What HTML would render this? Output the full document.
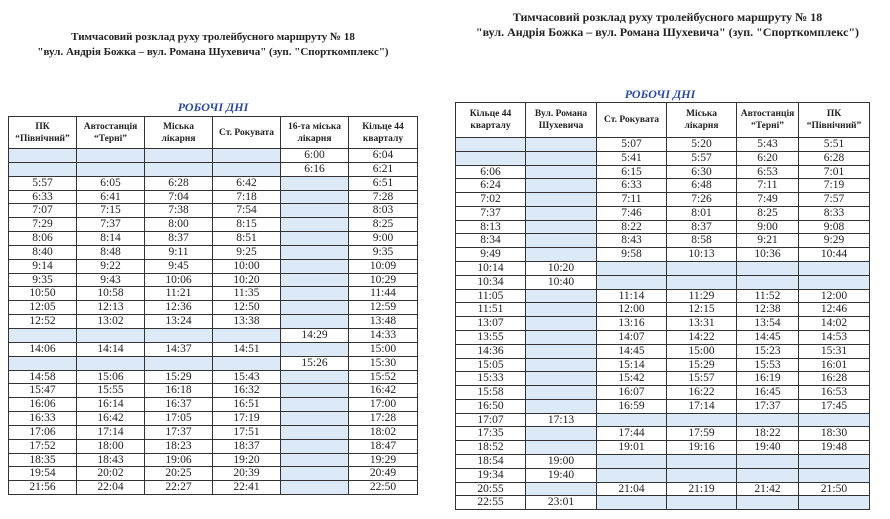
<!DOCTYPE html>
<html><head><meta charset="utf-8"><style>
body{margin:0;width:890px;height:519px;background:#fff;position:relative;overflow:hidden;font-family:"Liberation Serif",serif;color:#222}
.t{position:absolute;text-align:center;font-weight:bold;font-size:11px;line-height:15px;white-space:nowrap}
.sub{position:absolute;font-style:italic;font-weight:bold;color:#2a4a9a;font-size:12px;text-align:center}
table{position:absolute;border-collapse:collapse;table-layout:fixed}
td{border:1px solid #333;padding:0;text-align:center;font-size:11.5px;overflow:hidden;white-space:nowrap}
th{border:1.5px solid #333;font-size:9.5px;font-weight:bold;line-height:12px;padding:0}
td.b{background:#dce9f7}
</style></head><body>
<div class="t" style="left:8px;width:410px;top:30px">Тимчасовий розклад руху тролейбусного маршруту № 18<br>"вул. Андрія Божка – вул. Романа Шухевича" (зуп. "Спорткомплекс")</div>
<div class="sub" style="left:8px;width:410px;top:100px">РОБОЧІ ДНІ</div>
<div class="t" style="left:455px;width:425px;top:10px;font-size:12px">Тимчасовий розклад руху тролейбусного маршруту № 18<br>"вул. Андрія Божка – вул. Романа Шухевича" (зуп. "Спорткомплекс")</div>
<div class="sub" style="left:470px;width:380px;top:87px">РОБОЧІ ДНІ</div>
<table id="lt" style="left:8px;top:116px;width:409px"></table>
<table id="rt" style="left:455px;top:102px;width:414px"></table>
<script>
const leftHead=['ПК<br>“Північний”','Автостанція<br>“Тернi”','Міська<br>лікарня','Ст. Рокувата','16-та міська<br>лікарня','Кільце 44<br>кварталу'];
const leftRows=[
['','','','','6:00','6:04'],['','','','','6:16','6:21'],
['5:57','6:05','6:28','6:42','','6:51'],['6:33','6:41','7:04','7:18','','7:28'],
['7:07','7:15','7:38','7:54','','8:03'],['7:29','7:37','8:00','8:15','','8:25'],
['8:06','8:14','8:37','8:51','','9:00'],['8:40','8:48','9:11','9:25','','9:35'],
['9:14','9:22','9:45','10:00','','10:09'],['9:35','9:43','10:06','10:20','','10:29'],
['10:50','10:58','11:21','11:35','','11:44'],['12:05','12:13','12:36','12:50','','12:59'],
['12:52','13:02','13:24','13:38','','13:48'],['','','','','14:29','14:33'],
['14:06','14:14','14:37','14:51','','15:00'],['','','','','15:26','15:30'],
['14:58','15:06','15:29','15:43','','15:52'],['15:47','15:55','16:18','16:32','','16:42'],
['16:06','16:14','16:37','16:51','','17:00'],['16:33','16:42','17:05','17:19','','17:28'],
['17:06','17:14','17:37','17:51','','18:02'],['17:52','18:00','18:23','18:37','','18:47'],
['18:35','18:43','19:06','19:20','','19:29'],['19:54','20:02','20:25','20:39','','20:49'],
['21:56','22:04','22:27','22:41','','22:50']];
const rightHead=['Кільце 44<br>кварталу','Вул. Романа<br>Шухевича','Ст. Рокувата','Міська<br>лікарня','Автостанція<br>“Тернi”','ПК<br>“Північний”'];
const rightRows=[
['','','5:07','5:20','5:43','5:51'],['','','5:41','5:57','6:20','6:28'],
['6:06','','6:15','6:30','6:53','7:01'],['6:24','','6:33','6:48','7:11','7:19'],
['7:02','','7:11','7:26','7:49','7:57'],['7:37','','7:46','8:01','8:25','8:33'],
['8:13','','8:22','8:37','9:00','9:08'],['8:34','','8:43','8:58','9:21','9:29'],
['9:49','','9:58','10:13','10:36','10:44'],['10:14','10:20','','','',''],
['10:34','10:40','','','',''],['11:05','','11:14','11:29','11:52','12:00'],
['11:51','','12:00','12:15','12:38','12:46'],['13:07','','13:16','13:31','13:54','14:02'],
['13:55','','14:07','14:22','14:45','14:53'],['14:36','','14:45','15:00','15:23','15:31'],
['15:05','','15:14','15:29','15:53','16:01'],['15:33','','15:42','15:57','16:19','16:28'],
['15:58','','16:07','16:22','16:45','16:53'],['16:50','','16:59','17:14','17:37','17:45'],
['17:07','17:13','','','',''],['17:35','','17:44','17:59','18:22','18:30'],
['18:52','','19:01','19:16','19:40','19:48'],['18:54','19:00','','','',''],
['19:34','19:40','','','',''],['20:55','','21:04','21:19','21:42','21:50'],
['22:55','23:01','','','','']];
function build(id,head,rows,widths,hh,rh){
 const t=document.getElementById(id);
 const cg=document.createElement('colgroup');
 widths.forEach(w=>{const c=document.createElement('col');c.style.width=w+'px';cg.appendChild(c);});
 t.appendChild(cg);
 const tr=document.createElement('tr');tr.style.height=hh+'px';
 head.forEach(h=>{const th=document.createElement('th');th.innerHTML=h;
 
 
 tr.appendChild(th);});
 t.appendChild(tr);
 rows.forEach(r=>{const row=document.createElement('tr');row.style.height=rh+'px';
 r.forEach(v=>{const td=document.createElement('td');td.textContent=v;if(!v)td.className='b';
 
 
 td.style.height=(rh-1)+'px';td.style.lineHeight=(rh-1)+'px';
 row.appendChild(td);});
 t.appendChild(row);});
}
build('lt',leftHead,leftRows,[68,68,68,68,68,69],32,13.84);
build('rt',rightHead,rightRows,[70,71,70,70,62,71],35,13.78);
</script>
</body></html>
